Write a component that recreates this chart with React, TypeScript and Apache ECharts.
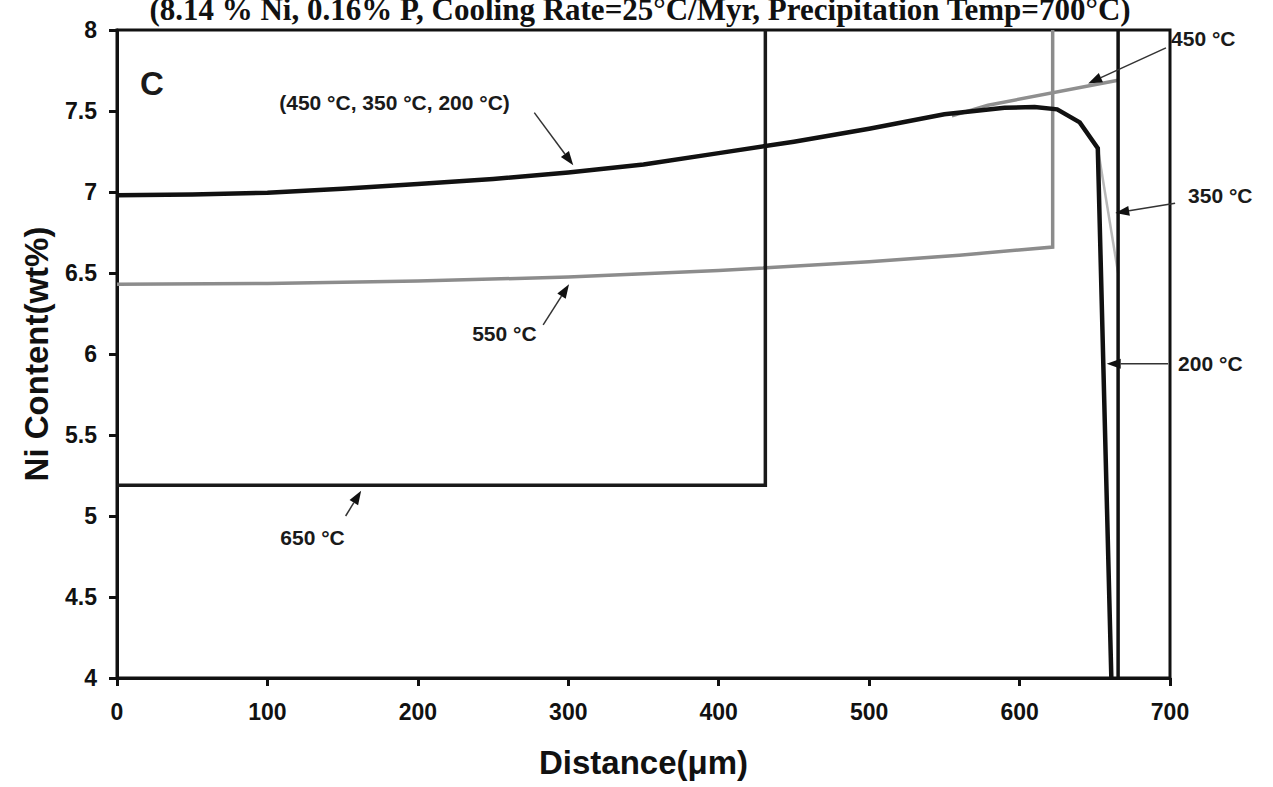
import React, { useEffect, useRef } from "react";
import * as echarts from "echarts";

// ---- data (Distance in µm, Ni content in wt%) ----
const dist650 = [0, 431, 431];
const ni650 = [5.19, 5.19, 8];

const dist550 = [0, 100, 200, 300, 400, 500, 560, 622, 622];
const ni550 = [6.43, 6.435, 6.45, 6.475, 6.515, 6.57, 6.61, 6.66, 8];

const distLow = [0, 50, 100, 150, 200, 250, 300, 350, 400, 450, 500, 550, 590, 610, 625, 640, 652, 661];
const niLow = [6.98, 6.985, 6.995, 7.02, 7.05, 7.08, 7.12, 7.17, 7.24, 7.31, 7.39, 7.48, 7.52, 7.525, 7.51, 7.43, 7.27, 4.0];

const dist450 = [555, 579, 665.5];
const ni450 = [7.47, 7.536, 7.69];

const dist350 = [652, 665.5];
const ni350 = [7.27, 6.5];

const distEdge = [665.5, 665.5];
const niEdge = [4, 8];

const xTicks = [0, 100, 200, 300, 400, 500, 600, 700];
const yTicks = [4, 4.5, 5, 5.5, 6, 6.5, 7, 7.5, 8];

// annotation texts and anchors (data coords)
const labelTexts = ["C", "(450 °C, 350 °C, 200 °C)", "550 °C", "650 °C", "450 °C", "350 °C", "200 °C"];
const labelAnchors: [number, number][] = [[23.2, 7.67], [184.5, 7.555], [257.5, 6.127], [130, 4.866], [700.7, 7.95], [712, 6.98], [705.4, 5.94]];
const arrowTails: [number, number][] = [[277.4, 7.49], [283.3, 6.18], [152, 5.0], [697.3, 7.89], [703.4, 6.93], [698.7, 5.94]];
const arrowTips: [number, number][] = [[303.3, 7.165], [300.5, 6.43], [162.3, 5.156], [645.6, 7.67], [663.6, 6.87], [657.9, 5.94]];

const title = "(8.14 % Ni, 0.16% P, Cooling Rate=25°C/Myr, Precipitation Temp=700°C)";

const pair = (xs: number[], ys: number[]) => xs.map((x, i) => [x, ys[i]]);

const FONT = "'Liberation Sans', Arial, sans-serif";

export default function App() {
  const ref = useRef<HTMLDivElement>(null);
  useEffect(() => {
    if (!ref.current) return;
    const chart = echarts.init(ref.current, null, { renderer: "svg" });
    const lineSeries = (name: string, data: number[][], color: string, width: number, z = 2) => ({
      name,
      type: "line",
      data,
      showSymbol: false,
      symbol: "none",
      smooth: false,
      z,
      lineStyle: { color, width, cap: "butt", join: "miter" },
    });
    chart.setOption({
      animation: false,
      backgroundColor: "#ffffff",
      grid: {
        left: 117,
        right: 103,
        top: 30,
        bottom: 109,
        show: true,
        borderColor: "#111",
        borderWidth: 3,
        backgroundColor: "transparent",
      },
      xAxis: {
        type: "value",
        min: 0,
        max: 700,
        interval: 100,
        name: "Distance(μm)",
        nameLocation: "middle",
        nameGap: 68,
        nameTextStyle: { fontFamily: FONT, fontWeight: "bold", fontSize: 33, color: "#111" },
        axisLine: { show: true, lineStyle: { color: "#111", width: 3 } },
        axisTick: { show: true, inside: false, length: 8, lineStyle: { color: "#111", width: 3 } },
        axisLabel: {
          fontFamily: FONT,
          fontWeight: "bold",
          fontSize: 23,
          color: "#111",
          margin: 22,
          formatter: (v: number) => (xTicks.includes(v) ? String(v) : ""),
        },
        splitLine: { show: false },
      },
      yAxis: {
        type: "value",
        min: 4,
        max: 8,
        interval: 0.5,
        name: "Ni Content(wt%)",
        nameLocation: "middle",
        nameGap: 64,
        nameTextStyle: { fontFamily: FONT, fontWeight: "bold", fontSize: 33, color: "#111" },
        axisLine: { show: true, lineStyle: { color: "#111", width: 3 } },
        axisTick: { show: true, inside: false, length: 8, lineStyle: { color: "#111", width: 3 } },
        axisLabel: {
          fontFamily: FONT,
          fontWeight: "bold",
          fontSize: 23,
          color: "#111",
          margin: 20,
          formatter: (v: number) => (yTicks.includes(v) ? String(v) : ""),
        },
        splitLine: { show: false },
      },
      series: [
        lineSeries("650 °C", pair(dist650, ni650), "#1a1a1a", 3.5, 3),
        lineSeries("550 °C", pair(dist550, ni550), "#8c8c8c", 3.5, 2),
        lineSeries("450 °C", pair(dist450, ni450), "#8f8f8f", 3.5, 2),
        lineSeries("350 °C", pair(dist350, ni350), "#b8b8b8", 2.5, 2),
        lineSeries("200 °C", pair(distLow, niLow), "#111111", 4.5, 4),
        lineSeries("interface", pair(distEdge, niEdge), "#111111", 3.5, 4),
      ],
    });

    const px = (p: [number, number]) => chart.convertToPixel({ gridIndex: 0 }, p) as number[];
    const elements: any[] = [];
    // title (partly cut off at the top as in the source)
    elements.push({
      type: "text",
      x: 640,
      y: -6,
      z: 10,
      style: {
        text: title,
        fontFamily: "'Liberation Serif', 'Times New Roman', serif",
        fontWeight: "bold",
        fontSize: 31,
        fill: "#111",
        textAlign: "center",
        textVerticalAlign: "top",
      },
    });
    labelTexts.forEach((t, i) => {
      const [x, y] = px(labelAnchors[i]);
      const right = i >= 4;
      elements.push({
        type: "text",
        x,
        y,
        z: 10,
        style: {
          text: t,
          fontFamily: FONT,
          fontWeight: "bold",
          fontSize: i === 0 ? 33 : i === 1 ? 21 : 21,
          fill: "#1a1a1a",
          textAlign: right ? "left" : "center",
          textVerticalAlign: "middle",
        },
      });
    });
    arrowTails.forEach((tail, i) => {
      const [x1, y1] = px(tail);
      const [x2, y2] = px(arrowTips[i]);
      const dx = x2 - x1;
      const dy = y2 - y1;
      const len = Math.sqrt(dx * dx + dy * dy) || 1;
      const ux = dx / len;
      const uy = dy / len;
      const L = 14;
      const W = 10;
      const bx = x2 - ux * L;
      const by = y2 - uy * L;
      elements.push({
        type: "line",
        z: 10,
        shape: { x1, y1, x2: bx, y2: by },
        style: { stroke: "#333", lineWidth: 1.5 },
      });
      elements.push({
        type: "polygon",
        z: 10,
        shape: {
          points: [
            [x2, y2],
            [bx - uy * (W / 2), by + ux * (W / 2)],
            [bx + uy * (W / 2), by - ux * (W / 2)],
          ],
        },
        style: { fill: "#111" },
      });
    });
    chart.setOption({ graphic: { elements } });

    return () => chart.dispose();
  }, []);
  return <div ref={ref} style={{ width: 1273, height: 787, position: "absolute", left: 0, top: 0 }} />;
}
